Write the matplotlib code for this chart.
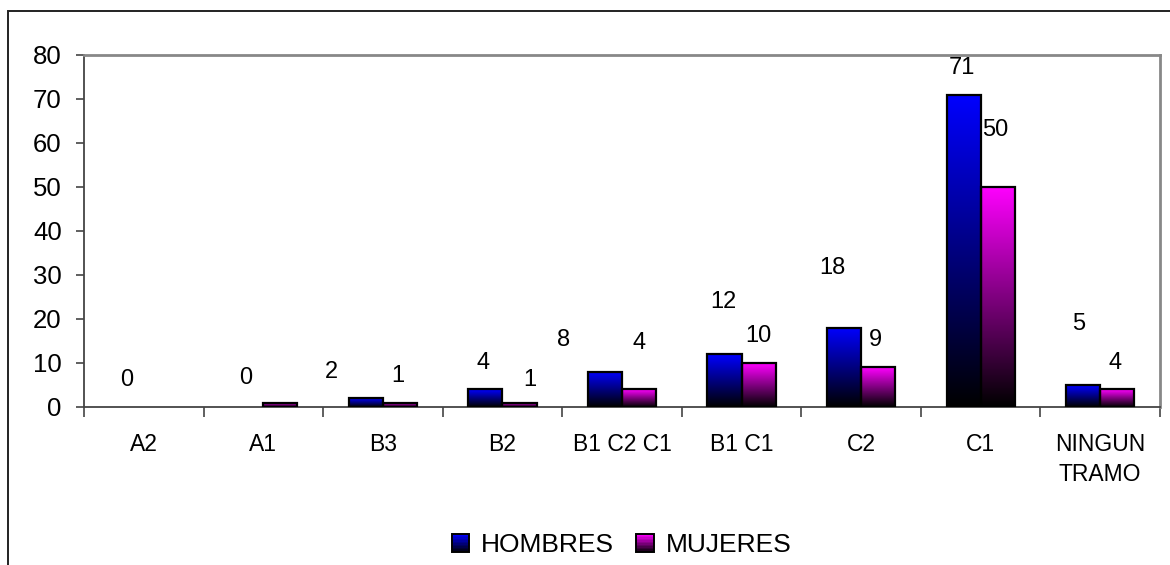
import numpy as np
import matplotlib.pyplot as plt
from matplotlib.colors import LinearSegmentedColormap
from matplotlib.patches import Rectangle
from matplotlib.legend_handler import HandlerBase

plt.rcParams['font.family'] = ['Liberation Sans', 'DejaVu Sans']

# ---------------- DATA ----------------
tramos = ['A2', 'A1', 'B3', 'B2', 'B1 C2 C1', 'B1 C1', 'C2', 'C1', 'NINGUN\nTRAMO']
hombres = [0, 0, 2, 4, 8, 12, 18, 71, 5]
mujeres = [0, 1, 1, 1, 4, 10, 9, 50, 4]
# etiquetas tal como aparecen (None = sin etiqueta)
etq_hombres = ['0', '0', '2', '4', '8', '12', '18', '71', '5']
etq_mujeres = [None, None, '1', '1', '4', '10', '9', '50', '4']

# posicion de las etiquetas (movidas a mano en el original)
dx_h = [-0.146, -0.148, -0.432, -0.162, -0.491, -0.150, -0.24, -0.16, -0.184]
dy_h = [6.1, 6.6, 6.0, 6.0, 7.2, 11.9, 13.7, 6.0, 13.8]
dx_m = [0, 0, 0.127, 0.226, 0.142, 0.137, 0.123, 0.125, 0.128]
dy_m = [0, 0, 6.0, 5.1, 10.6, 6.1, 6.3, 13.0, 6.0]

cmap_h = LinearSegmentedColormap.from_list('h', ['#000000', '#0000FF'])
cmap_m = LinearSegmentedColormap.from_list('m', ['#000000', '#FF00FF'])

ancho = 1 / 3.5
grad = np.linspace(0, 1, 256).reshape(-1, 1)


def barras_degradado(ax, xs, vals, cmap):
    xs = np.asarray(xs)
    vals = np.asarray(vals)
    hay = vals > 0
    for x, v in zip(xs[hay], vals[hay]):
        ax.imshow(grad, extent=[x - ancho / 2, x + ancho / 2, 0, v], origin='lower',
                  aspect='auto', cmap=cmap, zorder=2, interpolation='bilinear')
    ax.bar(xs[hay], vals[hay], width=ancho, facecolor='none', edgecolor='black', linewidth=1.6, zorder=3)


class HandlerDegradado(HandlerBase):
    def __init__(self, cmap):
        super().__init__()
        self.cmap = cmap

    def create_artists(self, legend, orig_handle, xdescent, ydescent, width, height, fontsize, trans):
        s = height * 0.95
        x0 = -xdescent + width - s
        y0 = -ydescent
        arts = []
        n = 12
        for k in range(n):
            arts.append(Rectangle((x0, y0 + k * s / n), s, s / n, facecolor=self.cmap((k + 0.5) / n),
                                  edgecolor='none', transform=trans))
        arts.append(Rectangle((x0, y0), s, s, facecolor='none', edgecolor='black', lw=1.4, transform=trans))
        return arts


fig = plt.figure(figsize=(11.7, 5.65), dpi=100)
ax = fig.add_axes([84 / 1170, 1 - 407 / 565, (1160 - 84) / 1170, (407 - 55) / 565])

x = np.arange(len(tramos))
barras_degradado(ax, x - ancho / 2, hombres, cmap_h)
barras_degradado(ax, x + ancho / 2, mujeres, cmap_m)

for i in range(len(tramos)):
    if etq_hombres[i] is not None:
        ax.text(x[i] + dx_h[i], hombres[i] + dy_h[i], etq_hombres[i], ha='center', va='center', fontsize=17)
    if etq_mujeres[i] is not None:
        ax.text(x[i] + dx_m[i], mujeres[i] + dy_m[i], etq_mujeres[i], ha='center', va='center', fontsize=17)

ax.set_xlim(-0.5, len(tramos) - 0.5)
ax.set_ylim(0, 80)
ax.set_yticks(range(0, 81, 10))
ax.tick_params(axis='y', labelsize=18.5, length=6, width=1.2, color='#444444', pad=10)

ax.set_xticks(np.arange(-0.5, len(tramos), 1))
ax.set_xticklabels([])
ax.tick_params(axis='x', which='major', length=7, width=1.2, color='#444444')
ax.set_xticks(x, minor=True)
ax.set_xticklabels(tramos, minor=True, fontsize=16.5, linespacing=1.35)
ax.tick_params(axis='x', which='minor', length=0, pad=19)

for s in ['left', 'bottom']:
    ax.spines[s].set_color('#444444')
    ax.spines[s].set_linewidth(1.3)
for s in ['top', 'right']:
    ax.spines[s].set_color('#888888')
    ax.spines[s].set_linewidth(2)

h1 = Rectangle((0, 0), 1, 1)
h2 = Rectangle((0, 0), 1, 1)
fig.legend([h1, h2], ['HOMBRES', 'MUJERES'], loc='center', bbox_to_anchor=(621 / 1170, 1 - 545 / 565),
           ncol=2, frameon=False, fontsize=19, handlelength=0.7, handletextpad=0.45, columnspacing=0.8,
           handler_map={h1: HandlerDegradado(cmap_h), h2: HandlerDegradado(cmap_m)})

# marco exterior del grafico
fig.add_artist(Rectangle((8 / 1170, -0.1), 1.2, 1.1 - 11 / 565, transform=fig.transFigure,
                         fill=False, edgecolor='#222222', linewidth=1.4))

fig.savefig('out.png', dpi=100)
